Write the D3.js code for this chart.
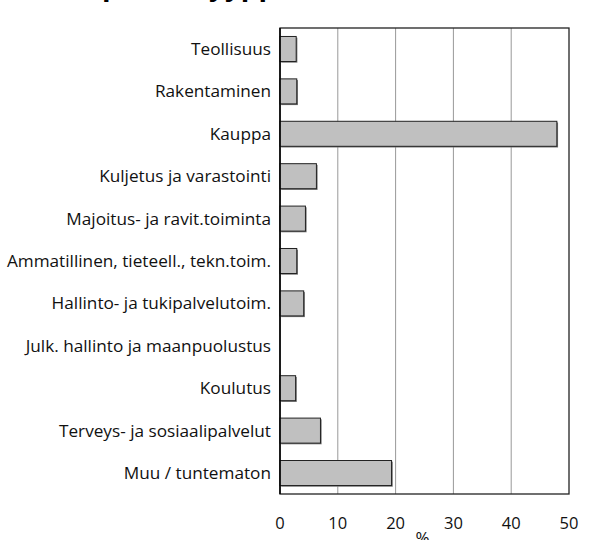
<!DOCTYPE html>
<html>
<head>
<meta charset="utf-8">
<script src="https://cdn.jsdelivr.net/npm/d3@7"></script>
<style>
  body { margin: 0; background: #fff; }
  svg { display: block; font-family: "Open Sans", sans-serif; }
</style>
</head>
<body>
<div id="chart"></div>
<script>
const width = 592;
const height = 540;
const margin = { top: 28, right: 23, bottom: 46, left: 280 };

const categories = [
  "Teollisuus",
  "Rakentaminen",
  "Kauppa",
  "Kuljetus ja varastointi",
  "Majoitus- ja ravit.toiminta",
  "Ammatillinen, tieteell., tekn.toim.",
  "Hallinto- ja tukipalvelutoim.",
  "Julk. hallinto ja maanpuolustus",
  "Koulutus",
  "Terveys- ja sosiaalipalvelut",
  "Muu / tuntematon"
];
const values = [2.8, 2.9, 47.9, 6.3, 4.4, 2.9, 4.1, 0, 2.7, 7.0, 19.3];
const xTicks = [0, 10, 20, 30, 40, 50];
const xLabel = "%";
const title = "Toimipaikkatyyppi toimialoittain, %";

const data = categories.map((c, i) => ({ name: c, value: values[i] }));

const svg = d3.select("#chart")
  .append("svg")
  .attr("width", width)
  .attr("height", height)
  .attr("viewBox", [0, 0, width, height]);

const x = d3.scaleLinear()
  .domain([0, 50])
  .range([margin.left, width - margin.right]);

const y = d3.scaleBand()
  .domain(categories)
  .range([margin.top, height - margin.bottom])
  .paddingInner(0.41)
  .paddingOuter(0.2);

// title, mostly cut off at the top edge
svg.append("text")
  .attr("x", 275)
  .attr("y", -5)
  .attr("text-anchor", "middle")
  .attr("font-size", 28)
  .attr("font-weight", "bold")
  .text(title);

// gridlines
svg.append("g")
  .selectAll("line")
  .data(xTicks.slice(1, -1))
  .join("line")
  .attr("x1", d => x(d))
  .attr("x2", d => x(d))
  .attr("y1", margin.top)
  .attr("y2", height - margin.bottom)
  .attr("stroke", "#999")
  .attr("stroke-width", 1);

// frame
svg.append("rect")
  .attr("x", margin.left)
  .attr("y", margin.top)
  .attr("width", x(50) - x(0))
  .attr("height", height - margin.bottom - margin.top)
  .attr("fill", "none")
  .attr("stroke", "#222")
  .attr("stroke-width", 1.3);

// bar shadows
svg.append("g")
  .selectAll("rect")
  .data(data.filter(d => d.value > 0))
  .join("rect")
  .attr("x", x(0) + 1.2)
  .attr("y", d => y(d.name) + 1.2)
  .attr("width", d => x(d.value) - x(0))
  .attr("height", y.bandwidth())
  .attr("fill", "#777");

// bars
svg.append("g")
  .selectAll("rect")
  .data(data.filter(d => d.value > 0))
  .join("rect")
  .attr("x", x(0))
  .attr("y", d => y(d.name))
  .attr("width", d => x(d.value) - x(0))
  .attr("height", y.bandwidth())
  .attr("fill", "#c0c0c0")
  .attr("stroke", "#222")
  .attr("stroke-width", 1);

// left axis line drawn over bars
svg.append("line")
  .attr("x1", x(0)).attr("x2", x(0))
  .attr("y1", margin.top).attr("y2", height - margin.bottom)
  .attr("stroke", "#000")
  .attr("stroke-width", 1.5);

// category labels
svg.append("g")
  .selectAll("text")
  .data(categories)
  .join("text")
  .attr("x", margin.left - 9)
  .attr("y", d => y(d) + y.bandwidth() / 2)
  .attr("dy", "0.35em")
  .attr("text-anchor", "end")
  .attr("font-size", 17.2)
  .attr("fill", "#111")
  .text(d => d);

// x tick labels
svg.append("g")
  .selectAll("text")
  .data(xTicks)
  .join("text")
  .attr("x", d => x(d))
  .attr("y", 523)
  .attr("dy", "0.35em")
  .attr("text-anchor", "middle")
  .attr("font-size", 16.5)
  .attr("fill", "#111")
  .text(d => d);

svg.append("text")
  .attr("x", (x(0) + x(50)) / 2 - 2)
  .attr("y", 544)
  .attr("text-anchor", "middle")
  .attr("font-size", 17)
  .attr("fill", "#111")
  .text(xLabel);
</script>
</body>
</html>
